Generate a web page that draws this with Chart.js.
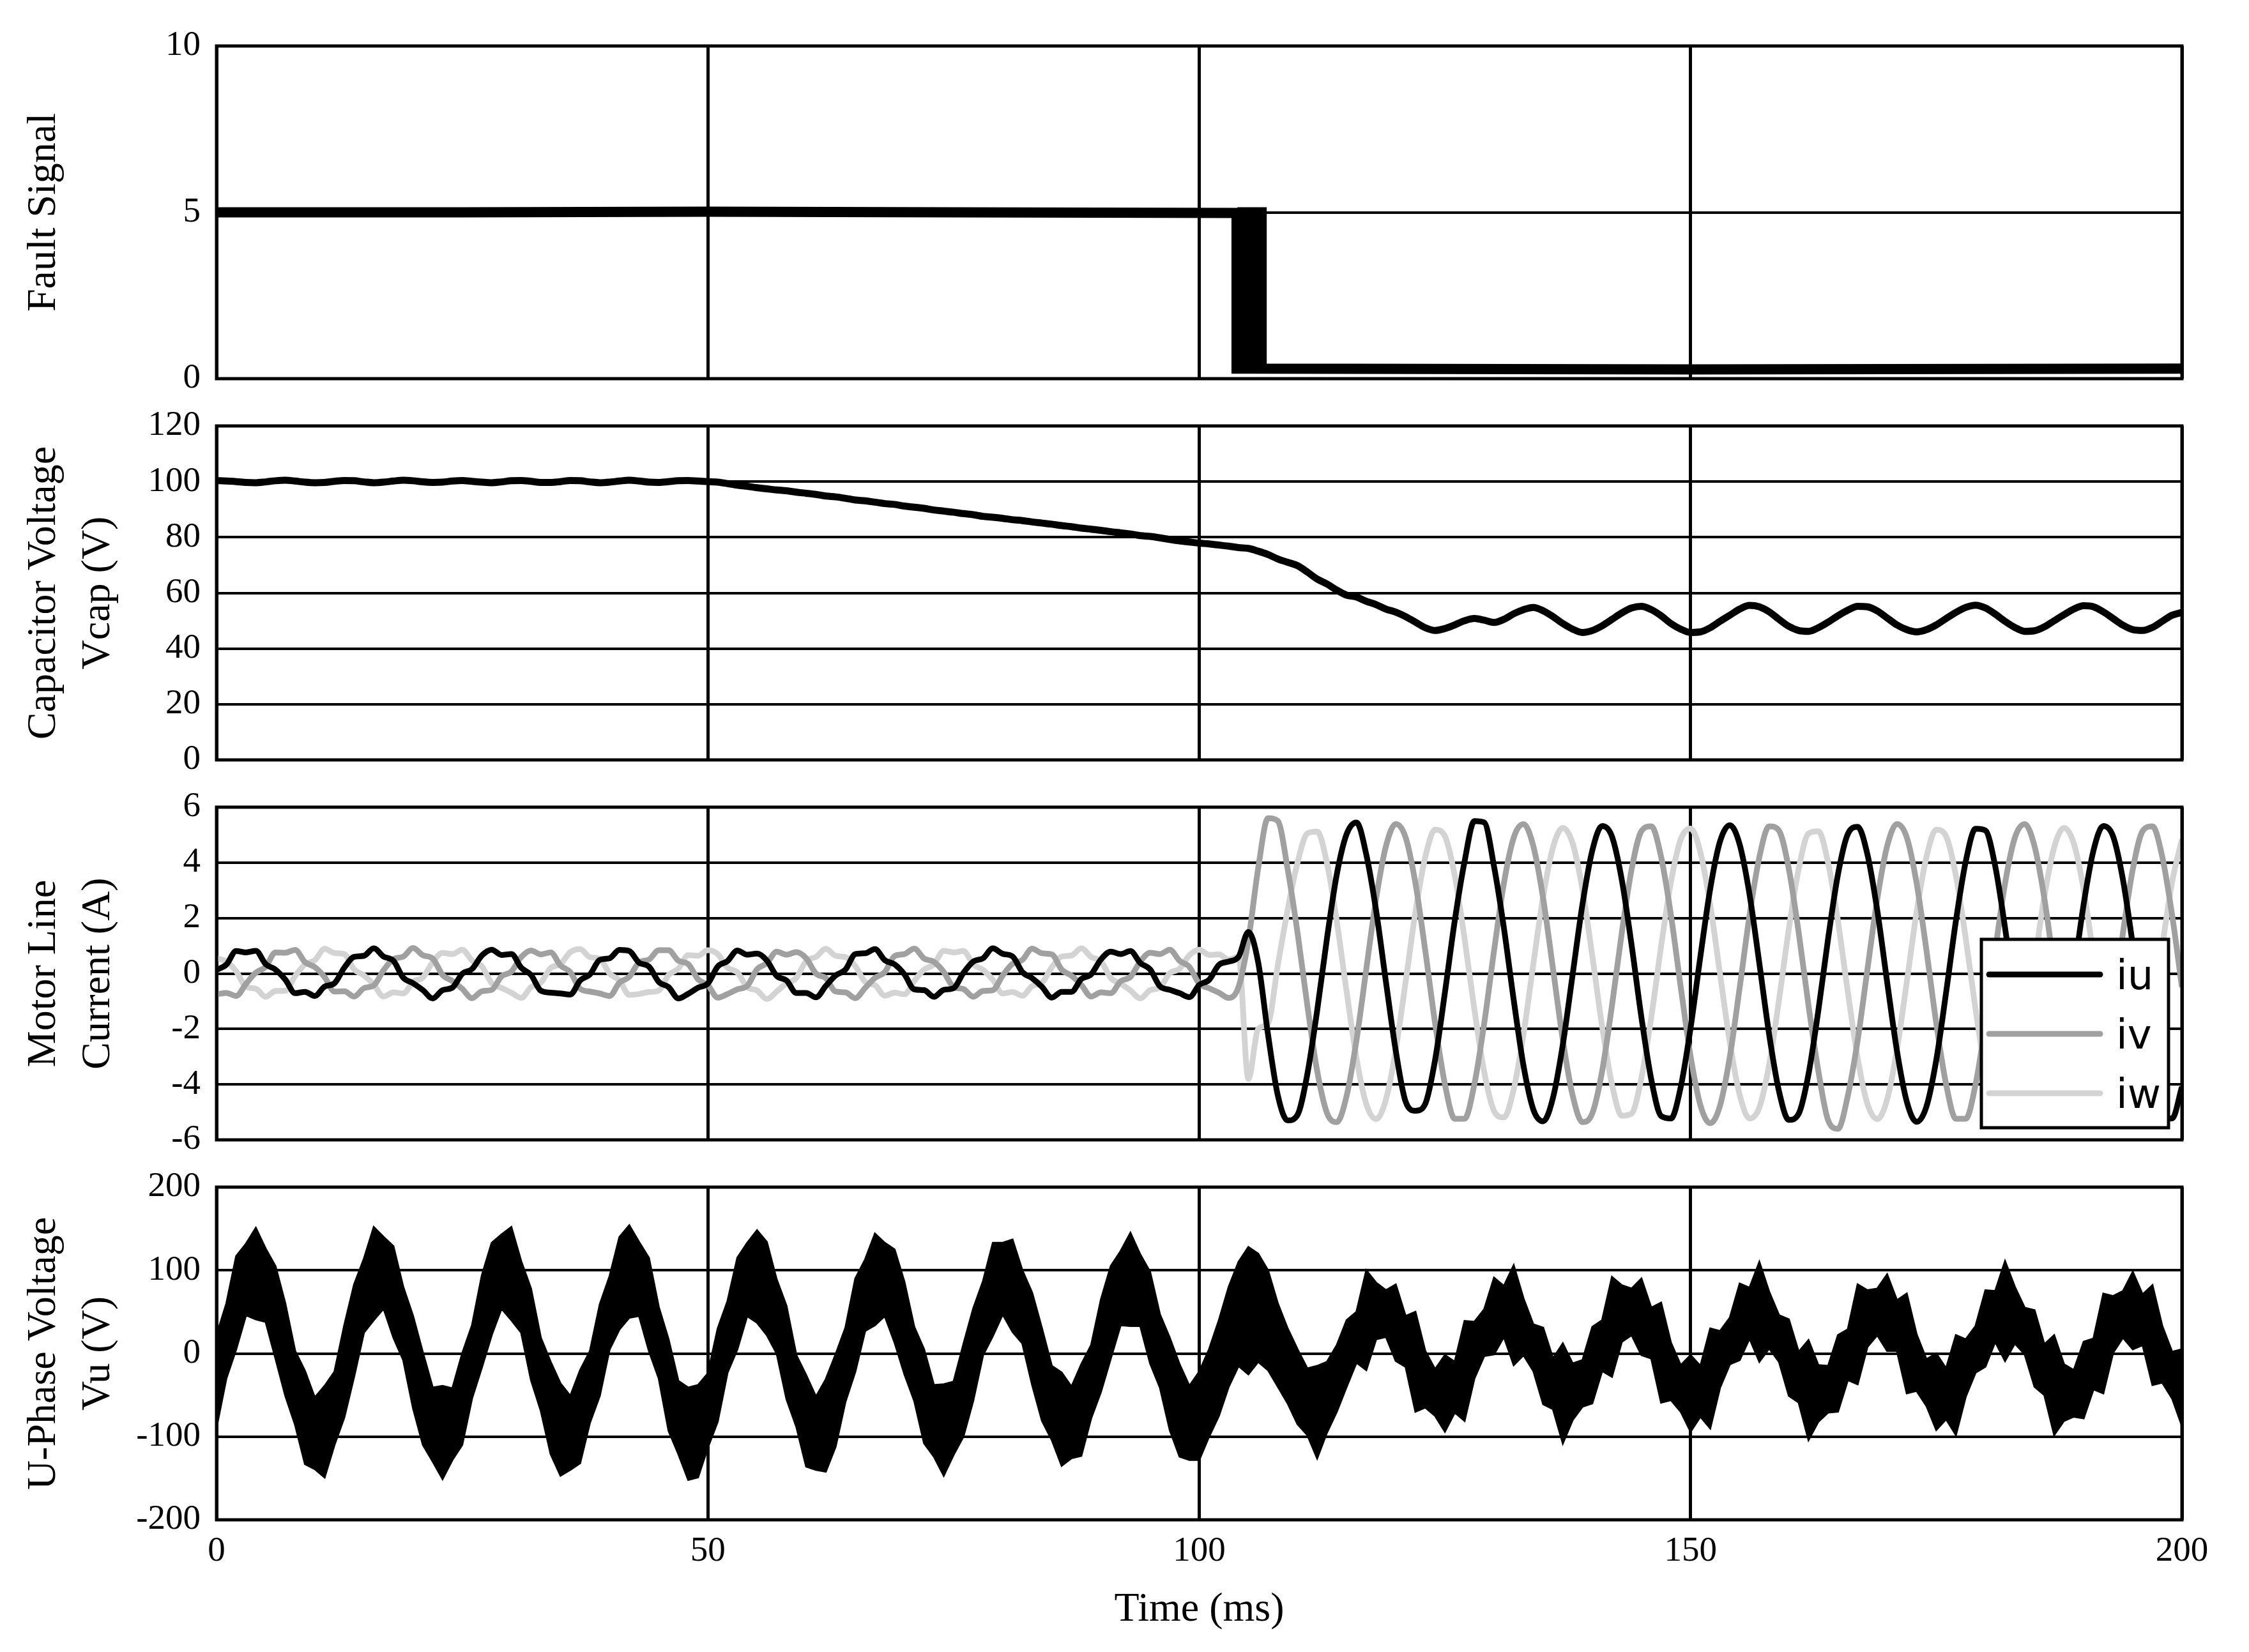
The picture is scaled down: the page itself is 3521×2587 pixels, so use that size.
<!DOCTYPE html>
<html>
<head>
<meta charset="utf-8">
<script src="https://cdn.jsdelivr.net/npm/chart.js@4.4.1/dist/chart.umd.min.js"></script>
<style>
  html, body { margin: 0; padding: 0; background: #fff; }
  #wrap { position: relative; width: 3521px; height: 2587px; background: #fff; overflow: hidden; }
  canvas { position: absolute; left: 0; }
</style>
</head>
<body>
<div id="wrap">
  <canvas id="faultChart" width="3521" height="673" style="top:0px;width:3521px;height:673px"></canvas>
  <canvas id="vcapChart" width="3521" height="683" style="top:587px;width:3521px;height:683px"></canvas>
  <canvas id="currentChart" width="3521" height="681" style="top:1184px;width:3521px;height:681px"></canvas>
  <canvas id="vuChart" width="3521" height="808" style="top:1779px;width:3521px;height:808px"></canvas>
</div>
<script>
// sample times (ms), one sample per millisecond
const timeMs = Array.from({ length: 201 }, (_, i) => i);

const timeTicks = [0, 50, 100, 150, 200];
const faultTicks = [0, 5, 10];
const vcapTicks = [0, 20, 40, 60, 80, 100, 120];
const currentTicks = [-6, -4, -2, 0, 2, 4, 6];
const vuTicks = [-200, -100, 0, 100, 200];

// fault signal: high until the trip, chatters, then low
const faultTimes = [0, 25, 50, 75, 103.8, 103.8, 104.4, 104.4, 105.0, 105.0, 105.6, 105.6, 106.35, 106.35, 150, 200];
const faultValues = [5.0, 5.0, 5.02, 5.0, 4.98, 0.3, 0.3, 5.0, 5.0, 0.3, 0.3, 5.0, 5.0, 0.3, 0.28, 0.3];

const vcap = [
  100.4, 100.2, 100.0, 99.7, 99.6, 99.9, 100.3, 100.5, 100.2, 99.8,
  99.6, 99.7, 100.1, 100.4, 100.3, 99.9, 99.6, 99.8, 100.2, 100.5,
  100.3, 99.9, 99.7, 99.8, 100.2, 100.4, 100.1, 99.8, 99.6, 99.9,
  100.3, 100.4, 100.1, 99.7, 99.7, 100.0, 100.4, 100.3, 99.9, 99.6,
  99.8, 100.2, 100.5, 100.2, 99.8, 99.7, 100.0, 100.3, 100.4, 100.2,
  100.0, 99.8, 99.3, 98.7, 98.3, 97.8, 97.4, 97.0, 96.7, 96.2,
  95.8, 95.4, 94.8, 94.5, 94.0, 93.4, 93.1, 92.6, 92.1, 91.8,
  91.2, 90.8, 90.4, 89.8, 89.4, 89.0, 88.5, 88.1, 87.5, 87.2,
  86.8, 86.3, 86.0, 85.5, 85.1, 84.7, 84.2, 83.8, 83.3, 82.9,
  82.5, 82.0, 81.6, 81.2, 80.6, 80.3, 79.8, 79.2, 78.7, 78.3,
  77.9, 77.6, 77.2, 76.8, 76.3, 76.0, 75.0, 73.8, 72.2, 71.0,
  69.8, 67.5, 65.0, 63.2, 61.0, 59.2, 58.5, 57.0, 55.8, 54.2,
  53.1, 51.5, 49.5, 47.5, 46.5, 47.2, 48.5, 50.0, 50.8, 50.2,
  49.4, 50.5, 52.5, 54.0, 54.8, 53.6, 51.5, 49.0, 47.0, 45.8,
  46.5, 48.2, 50.5, 52.8, 54.6, 55.2, 54.0, 51.8, 49.0, 47.0,
  45.8, 46.0, 47.5, 49.8, 52.0, 54.2, 55.5, 55.0, 53.2, 50.5,
  48.0, 46.5, 46.2, 47.5, 49.5, 51.8, 53.8, 55.2, 55.0, 53.5,
  51.0, 48.5, 46.8, 46.0, 46.8, 48.5, 50.8, 53.0, 54.8, 55.6,
  54.6, 52.4, 49.8, 47.6, 46.2, 46.4, 47.8, 50.0, 52.2, 54.2,
  55.4, 55.0, 53.2, 50.8, 48.4, 46.8, 46.5, 47.6, 49.8, 52.0,
  53.0
];

const iu = [
  0.13, 0.32, 0.81, 0.76, 0.82, 0.34, 0.14, -0.22, -0.71, -0.66,
  -0.81, -0.47, -0.35, 0.21, 0.60, 0.64, 0.91, 0.61, 0.46, -0.15,
  -0.35, -0.60, -0.90, -0.60, -0.51, -0.01, 0.16, 0.65, 0.86, 0.67,
  0.70, 0.21, -0.05, -0.62, -0.69, -0.72, -0.76, -0.25, -0.03, 0.49,
  0.55, 0.85, 0.81, 0.39, 0.25, -0.30, -0.49, -0.90, -0.73, -0.51,
  -0.36, 0.25, 0.45, 0.83, 0.68, 0.72, 0.47, -0.09, -0.25, -0.70,
  -0.70, -0.86, -0.45, -0.07, 0.14, 0.70, 0.73, 0.88, 0.48, 0.33,
  -0.03, -0.57, -0.60, -0.84, -0.59, -0.53, 0.02, 0.43, 0.55, 0.91,
  0.71, 0.62, 0.05, -0.17, -0.48, -0.87, -0.66, -0.66, -0.20, -0.03,
  0.51, 0.79, 0.70, 0.81, 0.38, 0.15, -0.46, -0.59, -0.71, -0.85,
  -0.41, -0.23, 0.31, 0.43, 0.60, 1.5, 0.4, -2.2, -4.4, -5.3,
  -5.1, -3.63, -1.34, 1.27, 3.58, 5.03, 5.45, 4.29, 2.27, -0.30,
  -2.79, -4.62, -4.95, -4.7, -3.12, -0.69, 1.90, 4.04, 5.5, 5.45,
  3.86, 1.65, -0.95, -3.33, -4.91, -5.33, -4.48, -2.56, -0.03, 2.50,
  4.44, 5.32, 4.94, 3.38, 1.02, -1.59, -3.82, -5.14, -5.23, -4.09,
  -1.96, 0.62, 3.06, 4.77, 5.35, 4.65, 2.85, 0.36, -2.21, -4.25,
  -5.28, -5.06, -3.63, -1.34, 1.27, 3.58, 5.03, 5.29, 4.29, 2.27,
  -0.30, -2.79, -4.62, -5.35, -4.80, -3.12, -0.69, 1.90, 4.04, 5.22,
  5.16, 3.87, 1.65, -0.95, -3.33, -4.91, -5.33, -4.48, -2.56, -0.03,
  2.50, 4.44, 5.32, 4.94, 3.38, 1.02, -1.59, -3.82, -5.14, -5.23,
  -4.09
];

const iv = [
  -0.75, -0.70, -0.81, -0.37, 0.03, 0.24, 0.76, 0.75, 0.85, 0.41,
  0.23, -0.13, -0.65, -0.64, -0.83, -0.53, -0.43, 0.12, 0.52, 0.61,
  0.92, 0.66, 0.54, -0.05, -0.27, -0.55, -0.89, -0.64, -0.59, -0.10,
  0.07, 0.59, 0.83, 0.69, 0.76, 0.29, 0.05, -0.55, -0.65, -0.72,
  -0.81, -0.33, -0.12, 0.40, 0.50, 0.84, 0.84, 0.46, 0.34, -0.21,
  -0.42, -0.87, -0.74, -0.57, -0.45, 0.15, 0.37, 0.79, 0.68, 0.77,
  0.55, 0.00, -0.17, -0.65, -0.68, -0.89, -0.52, -0.16, 0.05, 0.63,
  0.70, 0.90, 0.54, 0.42, 0.06, -0.49, -0.56, -0.84, -0.63, -0.60,
  -0.07, 0.35, 0.49, 0.90, 0.73, 0.69, 0.14, -0.08, -0.41, -0.83,
  -0.68, -0.71, -0.28, -0.12, 0.43, 0.75, 0.70, 0.86, 0.46, 0.24,
  -0.37, -0.53, -0.69, -0.88, -0.48, 1.2, 3.8, 5.6, 5.5, 3.76,
  1.48, -1.15, -3.51, -5.03, -5.36, -4.41, -2.41, 0.16, 2.70, 4.59,
  5.39, 4.91, 3.26, 0.83, -1.79, -3.99, -5.24, -5.24, -3.99, -1.80,
  0.82, 3.25, 4.90, 5.39, 4.59, 2.70, 0.17, -2.40, -4.40, -5.36,
  -5.04, -3.52, -1.16, 1.47, 3.76, 5.14, 5.31, 4.21, 2.11, -0.49,
  -2.98, -4.75, -5.40, -4.76, -2.99, -0.50, 2.10, 4.20, 5.31, 5.15,
  3.77, 1.48, -1.15, -3.51, -5.3, -5.6, -4.41, -2.41, 0.16, 2.69,
  4.59, 5.39, 4.91, 3.26, 0.84, -1.79, -3.99, -5.24, -5.24, -4.00,
  -1.80, 0.82, 3.25, 4.90, 5.39, 4.59, 2.71, 0.17, -2.40, -4.40,
  -5.36, -5.04, -3.52, -1.16, 1.47, 3.76, 5.14, 5.31, 4.21, 2.11,
  -0.49
];

const iw = [
  0.55, 0.43, 0.08, -0.48, -0.55, -0.84, -0.63, -0.62, -0.09, 0.33,
  0.48, 0.89, 0.74, 0.70, 0.15, -0.07, -0.40, -0.83, -0.68, -0.72,
  -0.30, -0.14, 0.41, 0.74, 0.70, 0.86, 0.47, 0.26, -0.35, -0.52,
  -0.69, -0.88, -0.49, -0.33, 0.20, 0.34, 0.77, 0.88, 0.59, 0.53,
  0.00, -0.25, -0.77, -0.74, -0.67, -0.62, -0.06, 0.18, 0.66, 0.64,
  0.84, 0.70, 0.21, 0.04, -0.49, -0.61, -0.92, -0.65, -0.35, -0.16,
  0.45, 0.60, 0.89, 0.64, 0.59, 0.27, -0.30, -0.42, -0.80, -0.69,
  -0.75, -0.27, 0.14, 0.33, 0.82, 0.76, 0.81, 0.33, 0.13, -0.23,
  -0.72, -0.67, -0.80, -0.45, -0.33, 0.23, 0.61, 0.65, 0.91, 0.60,
  0.44, -0.16, -0.37, -0.61, -0.90, -0.60, -0.50, 0.01, 0.17, 0.66,
  0.86, 0.67, 0.69, 0.50, 0.60, -3.8, -2.0, -1.8, 0.3, 2.3,
  4.0, 5.05, 5.12, 3.98, 1.88, -0.66, -3.05, -4.71, -5.25, -4.54,
  -2.75, -0.31, 2.21, 4.20, 5.19, 4.95, 3.53, 1.26, -1.30, -3.55,
  -4.96, -5.19, -4.18, -2.18, 0.34, 2.78, 4.55, 5.25, 4.69, 3.02,
  0.63, -1.91, -4.00, -5.13, -5.05, -3.76, -1.58, 0.98, 3.30, 4.84,
  5.23, 4.37, 2.47, -0.02, -2.50, -4.38, -5.23, -4.83, -3.28, -0.95,
  1.61, 3.78, 5.05, 5.13, 3.98, 1.88, -0.66, -3.05, -4.71, -5.25,
  -4.54, -2.75, -0.31, 2.21, 4.20, 5.19, 4.95, 3.53, 1.27, -1.29,
  -3.55, -4.96, -5.19, -4.18, -2.18, 0.34, 2.78, 4.55, 5.25, 4.69,
  3.02, 0.63, -1.91, -4.00, -5.13, -5.05, -3.76, -1.58, 0.98, 3.30,
  4.84
];

// U-phase voltage: upper and lower edge of the switching band
const vuUpper = [
  22, 60, 117, 132, 151, 126, 105, 60, 3, -21,
  -53, -39, -22, 34, 83, 114, 152, 140, 129, 80,
  45, 1, -41, -39, -42, 0, 34, 94, 133, 143,
  152, 111, 78, 19, -10, -36, -51, -20, 3, 59,
  93, 140, 154, 134, 115, 56, 17, -33, -41, -38,
  -24, 30, 63, 115, 133, 148, 134, 89, 57, -2,
  -26, -52, -31, -1, 31, 90, 113, 144, 133, 125,
  86, 32, 5, -38, -37, -34, 11, 54, 87, 133,
  133, 137, 100, 73, 30, -15, -23, -40, -13, 10,
  65, 105, 123, 145, 119, 98, 47, 19, -13, -39,
  -22, 5, 40, 80, 110, 128, 120, 100, 60, 30,
  5, -18, -15, -10, 10, 40, 50, 100, 85, 76,
  83, 45, 50, 3, -19, -2, -10, 39, 38, 53,
  91, 81, 106, 66, 35, 31, -6, 12, -12, -8,
  32, 40, 92, 82, 78, 90, 55, 61, 13, -14,
  -2, -15, 30, 27, 43, 84, 79, 110, 74, 46,
  41, 2, 16, -14, -15, 22, 29, 83, 76, 78,
  95, 64, 72, 23, -7, 0, -18, 22, 17, 33,
  76, 75, 111, 80, 55, 52, 11, 22, -13, -20,
  14, 18, 72, 69, 75, 98, 71, 82, 33, 2,
  5
];

const vuLower = [
  -89, -30, 5, 46, 41, 38, -6, -51, -86, -133,
  -139, -149, -110, -77, -28, 25, 40, 54, 19, -8,
  -66, -110, -130, -151, -128, -110, -54, -17, 22, 54,
  40, 25, -32, -69, -121, -147, -140, -132, -83, -51,
  5, 29, 43, 45, 3, -30, -93, -121, -152, -149,
  -113, -82, -23, 5, 45, 37, 22, 0, -55, -88,
  -136, -140, -142, -112, -58, -22, 27, 34, 45, 13,
  -25, -57, -108, -124, -147, -122, -100, -57, -2, 21,
  47, 26, 12, -38, -81, -104, -135, -126, -123, -78,
  -46, -6, 34, 33, 33, -12, -41, -92, -124, -128,
  -128, -100, -75, -40, -15, -25, -10, -20, -40, -60,
  -85, -98, -126, -95, -70, -40, -11, -20, 17, 20,
  -9, -16, -70, -65, -75, -94, -71, -81, -30, -3,
  -1, 20, -14, -2, -21, -61, -67, -108, -80, -64,
  -60, -21, -28, 14, 22, -2, -6, -59, -56, -70,
  -94, -76, -90, -41, -13, -8, 18, -10, 6, -10,
  -51, -59, -104, -82, -71, -70, -32, -37, 8, 22,
  3, 3, -48, -45, -63, -92, -79, -98, -52, -23,
  -16, 14, -9, 12, -1, -40, -50, -98, -81, -76,
  -78, -43, -48, 1, 19, 5, 10, -38, -35, -54,
  -87
];

const faultTitle = 'Fault Signal';
const vcapTitle = ['Capacitor Voltage', 'Vcap (V)'];
const currentTitle = ['Motor Line', 'Current (A)'];
const vuTitle = ['U-Phase Voltage', 'Vu (V)'];
const timeTitle = 'Time (ms)';

const SERIF = 'Liberation Serif';
Chart.defaults.font.family = SERIF;
Chart.defaults.color = '#000';

const pts = (xs, ys) => xs.map((x, i) => ({ x: x, y: ys[i] }));

const framePlugin = {
  id: 'frame',
  afterDatasetsDraw(chart) {
    const { ctx, chartArea: a } = chart;
    ctx.save();
    ctx.strokeStyle = '#000';
    ctx.lineWidth = 5;
    ctx.strokeRect(a.left, a.top, a.right - a.left, a.bottom - a.top);
    ctx.restore();
  }
};

const boxLegend = {
  id: 'boxLegend',
  afterDraw(chart) {
    const { ctx, chartArea: a } = chart;
    const w = 293, h = 295;
    const x0 = a.right - 21 - w;
    const y0 = a.top + 207;
    ctx.save();
    ctx.fillStyle = '#fff';
    ctx.fillRect(x0, y0, w, h);
    ctx.lineWidth = 5;
    ctx.strokeStyle = '#000';
    ctx.strokeRect(x0, y0, w, h);
    ctx.font = '64px "DejaVu Sans"';
    ctx.textBaseline = 'middle';
    chart.data.datasets.forEach((ds, i) => {
      const y = y0 + 55 + i * 93;
      ctx.strokeStyle = ds.borderColor;
      ctx.lineWidth = 9;
      ctx.lineCap = 'round';
      ctx.beginPath();
      ctx.moveTo(x0 + 12, y);
      ctx.lineTo(x0 + 186, y);
      ctx.stroke();
      ctx.fillStyle = '#000';
      ctx.fillText(ds.label, x0 + 211, y + 6);
    });
    ctx.restore();
  }
};

function makeChart(id, datasets, opts) {
  const showX = !!opts.showX;
  return new Chart(document.getElementById(id), {
    type: 'line',
    data: { datasets: datasets },
    options: {
      responsive: false,
      animation: false,
      devicePixelRatio: 1,
      layout: { padding: { left: 0, right: 105, top: opts.padTop, bottom: opts.padBottom } },
      plugins: { legend: { display: false }, tooltip: { enabled: false } },
      elements: { point: { radius: 0 } },
      scales: {
        x: {
          type: 'linear',
          min: 0,
          max: 200,
          afterBuildTicks: s => { s.ticks = timeTicks.map(v => ({ value: v })); },
          afterFit: s => { s.height = showX ? 207 : 0; },
          grid: { color: '#000', lineWidth: 5, drawTicks: false },
          border: { display: false },
          ticks: { display: showX, padding: 17, font: { size: 55 }, color: '#000' },
          title: {
            display: showX,
            text: timeTitle,
            font: { size: 64, lineHeight: 1.2 },
            padding: { top: 0, bottom: 27 }
          }
        },
        y: {
          min: opts.yMin,
          max: opts.yMax,
          afterBuildTicks: s => { s.ticks = opts.yTicks.map(v => ({ value: v })); },
          afterFit: s => { s.width = 339; },
          grid: { color: '#000', lineWidth: 4, drawTicks: false },
          border: { display: false },
          ticks: { padding: 25, font: { size: 55 }, color: '#000' },
          title: {
            display: true,
            text: opts.yTitle,
            font: { size: 64, lineHeight: 1.34 },
            padding: { top: 26, bottom: 0 }
          }
        }
      }
    },
    plugins: [framePlugin].concat(opts.extra || [])
  });
}

makeChart('faultChart', [{
  label: 'Fault',
  data: pts(faultTimes, faultValues),
  borderColor: '#000',
  borderWidth: 16,
  tension: 0
}], { yMin: 0, yMax: 10, yTicks: faultTicks, yTitle: faultTitle, padTop: 72, padBottom: 80 });

makeChart('vcapChart', [{
  label: 'Vcap',
  data: pts(timeMs, vcap),
  borderColor: '#000',
  borderWidth: 11,
  cubicInterpolationMode: 'monotone'
}], { yMin: 0, yMax: 120, yTicks: vcapTicks, yTitle: vcapTitle, padTop: 80, padBottom: 80 });

makeChart('currentChart', [
  { label: 'iu', data: pts(timeMs, iu), borderColor: '#000000', borderWidth: 9, cubicInterpolationMode: 'monotone' },
  { label: 'iv', data: pts(timeMs, iv), borderColor: '#a0a0a0', borderWidth: 9, cubicInterpolationMode: 'monotone' },
  { label: 'iw', data: pts(timeMs, iw), borderColor: '#d3d3d3', borderWidth: 9, cubicInterpolationMode: 'monotone' }
], { yMin: -6, yMax: 6, yTicks: currentTicks, yTitle: currentTitle, padTop: 80, padBottom: 80, extra: [boxLegend] });

makeChart('vuChart', [
  { label: 'Vu upper', data: pts(timeMs, vuUpper), borderColor: '#000', backgroundColor: '#000', borderWidth: 3, fill: '+1', tension: 0 },
  { label: 'Vu lower', data: pts(timeMs, vuLower), borderColor: '#000', borderWidth: 3, fill: false, tension: 0 }
], { yMin: -200, yMax: 200, yTicks: vuTicks, yTitle: vuTitle, padTop: 80, padBottom: 0, showX: true });
</script>
</body>
</html>
